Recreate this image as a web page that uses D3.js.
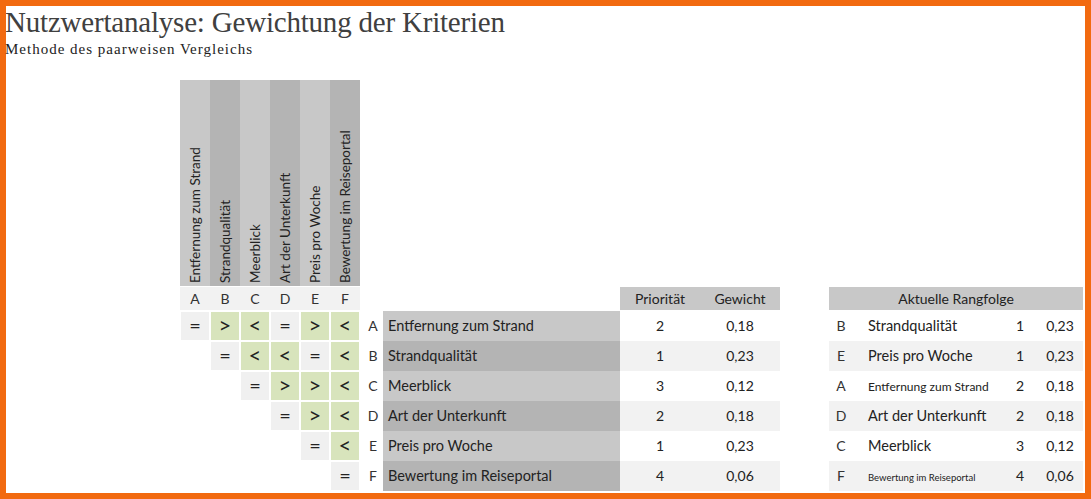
<!DOCTYPE html><html><head><meta charset="utf-8"><script src="https://cdn.jsdelivr.net/npm/d3@7"></script>
<style>body{margin:0;background:#fff}svg{display:block}</style></head><body><svg id="c" width="1091" height="499"></svg>
<script>
const letters=["A","B","C","D","E","F"];
const names=["Entfernung zum Strand","Strandqualität","Meerblick","Art der Unterkunft","Preis pro Woche","Bewertung im Reiseportal"];
const matrix=[["=",">","<","=",">","<"],["","=","<","<","=","<"],["","","=",">",">","<"],["","","","=",">","<"],["","","","","=","<"],["","","","","","="]];
const prio=[2,1,3,2,1,4];
const weight=[0.18,0.23,0.12,0.18,0.23,0.06];
const rankLetters=["B","E","A","D","C","F"];
const fmt=v=>d3.format(".2f")(v).replace(".",",");
const svg=d3.select("#c");
const F="Lato, 'Open Sans', sans-serif";
svg.append("rect").attr("x",3).attr("y",3).attr("width",1085).attr("height",493).attr("fill","#fff").attr("stroke","#f26a10").attr("stroke-width",6);
svg.append("text").attr("x",5).attr("y",32).attr("font-family","'Liberation Serif',serif").attr("font-size",29).attr("textLength",500).attr("fill","#404040").text("Nutzwertanalyse: Gewichtung der Kriterien");
svg.append("text").attr("x",5).attr("y",54).attr("font-family","'Liberation Serif',serif").attr("font-size",15).attr("textLength",247).attr("fill","#222").text("Methode des paarweisen Vergleichs");
const x=d3.scaleBand().domain(d3.range(6)).range([180,360]);
const y=d3.scaleBand().domain(d3.range(6)).range([311,491]);
const shade=i=>i%2?"#b4b4b4":"#c8c8c8";
const h=svg.append("g");
letters.forEach((l,i)=>{
 h.append("rect").attr("x",x(i)).attr("y",80).attr("width",x.bandwidth()).attr("height",206).attr("fill",shade(i));
 h.append("text").attr("transform",`translate(${x(i)+20},283) rotate(-90)`).attr("font-family",F).attr("font-size",13.5).attr("fill","#222").text(names[i]);
 h.append("rect").attr("x",x(i)).attr("y",287).attr("width",x.bandwidth()).attr("height",23).attr("fill","#f2f2f2");
 h.append("text").attr("x",x(i)+15).attr("y",304).attr("text-anchor","middle").attr("font-family",F).attr("font-size",14).attr("fill","#333").text(l);
});
matrix.forEach((row,r)=>row.forEach((v,c)=>{
 if(!v)return;
 svg.append("rect").attr("x",x(c)+1).attr("y",y(r)+1).attr("width",x.bandwidth()-2).attr("height",y.bandwidth()-2).attr("fill",v==="="?"#f0f0f0":"#d8e4bc");
 svg.append("text").attr("x",x(c)+15).attr("y",y(r)+22).attr("text-anchor","middle").attr("font-family",F).attr("font-size",v==="="?20:22).attr("fill","#222").text(v);
}));
letters.forEach((l,r)=>{
 svg.append("text").attr("x",373).attr("y",y(r)+20).attr("text-anchor","middle").attr("font-family",F).attr("font-size",14).attr("fill","#333").text(l);
 svg.append("rect").attr("x",383).attr("y",y(r)).attr("width",237).attr("height",y.bandwidth()).attr("fill",shade(r));
 svg.append("text").attr("x",388).attr("y",y(r)+20).attr("font-family",F).attr("font-size",14.5).attr("fill","#222").text(names[r]);
 svg.append("rect").attr("x",620).attr("y",y(r)).attr("width",160).attr("height",y.bandwidth()).attr("fill",r%2?"#f2f2f2":"#fff");
 svg.append("text").attr("x",660).attr("y",y(r)+20).attr("text-anchor","middle").attr("font-family",F).attr("font-size",14).attr("fill","#222").text(prio[r]);
 svg.append("text").attr("x",740).attr("y",y(r)+20).attr("text-anchor","middle").attr("font-family",F).attr("font-size",14).attr("fill","#222").text(fmt(weight[r]));
});
svg.append("rect").attr("x",620).attr("y",287).attr("width",160).attr("height",23).attr("fill","#c8c8c8");
svg.append("text").attr("x",660).attr("y",304).attr("text-anchor","middle").attr("font-family",F).attr("font-size",14).attr("fill","#222").text("Priorität");
svg.append("text").attr("x",740).attr("y",304).attr("text-anchor","middle").attr("font-family",F).attr("font-size",14).attr("fill","#222").text("Gewicht");
svg.append("rect").attr("x",829).attr("y",287).attr("width",254).attr("height",23).attr("fill","#c8c8c8");
svg.append("text").attr("x",956).attr("y",304).attr("text-anchor","middle").attr("font-family",F).attr("font-size",14).attr("fill","#222").text("Aktuelle Rangfolge");
rankLetters.forEach((l,r)=>{
 const i=letters.indexOf(l);
 svg.append("rect").attr("x",829).attr("y",y(r)).attr("width",254).attr("height",y.bandwidth()).attr("fill",r%2?"#f2f2f2":"#fff");
 svg.append("text").attr("x",841).attr("y",y(r)+20).attr("text-anchor","middle").attr("font-family",F).attr("font-size",14).attr("fill","#333").text(l);
 const small=names[i].length>20;
 svg.append("text").attr("x",868).attr("y",y(r)+20).attr("font-family",F).attr("font-size",small?(i===5?9.5:12):14.5).attr("fill","#222").text(names[i]);
 svg.append("text").attr("x",1020).attr("y",y(r)+20).attr("text-anchor","middle").attr("font-family",F).attr("font-size",14).attr("fill","#222").text(prio[i]);
 svg.append("text").attr("x",1060).attr("y",y(r)+20).attr("text-anchor","middle").attr("font-family",F).attr("font-size",14).attr("fill","#222").text(fmt(weight[i]));
});
</script></body></html>
